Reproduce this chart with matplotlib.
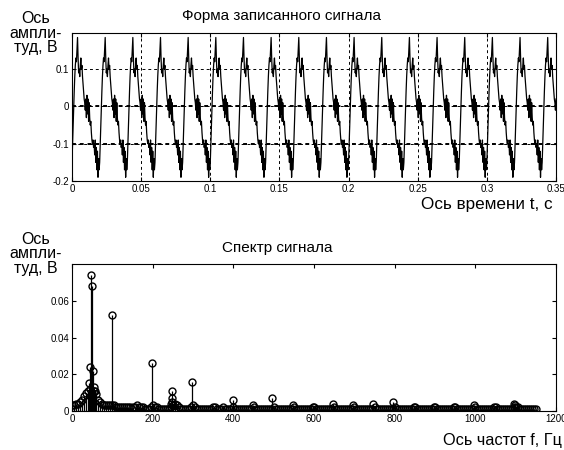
import numpy as np
import matplotlib
matplotlib.use('Agg')
import matplotlib.pyplot as plt

plt.rcParams['font.family'] = ['Liberation Sans', 'DejaVu Sans']

dt = 0.0004
period_vals = [-0.15, -0.10, -0.05, 0.00, 0.04, 0.08, 0.11, 0.13, 0.12, 0.15,
               0.185, 0.13, 0.09, 0.10, 0.08, 0.11, 0.13, 0.10, 0.11, 0.08,
               0.06, 0.04, 0.02, 0.01, -0.01, 0.02, -0.03, 0.03, -0.02, 0.02,
               -0.04, 0.01, -0.03, -0.05, -0.04, -0.07, -0.09, -0.10, -0.09, -0.11,
               -0.10, -0.13, -0.09, -0.15, -0.11, -0.17, -0.12, -0.19, -0.14, -0.17]
t_end = 0.35

# Spectrum: dense background read at 5 Hz steps (0 .. 1150 Hz)
bg_amp = [
    0.003, 0.003, 0.004, 0.004, 0.005, 0.006, 0.008, 0.010, 0.011, 0.012,
    0.010, 0.011, 0.009, 0.006, 0.005, 0.004, 0.003, 0.003, 0.003, 0.003,
    0.003, 0.003, 0.002, 0.002, 0.002, 0.002, 0.002, 0.002, 0.002, 0.002,
    0.002, 0.002, 0.003, 0.002, 0.002, 0.002, 0.001, 0.001, 0.001, 0.002,
    0.003, 0.002, 0.002, 0.001, 0.001, 0.001, 0.001, 0.001, 0.001, 0.002,
    0.003, 0.004, 0.003, 0.002, 0.001, 0.001, 0.001, 0.001, 0.001, 0.002,
    0.003, 0.002, 0.001, 0.001, 0.001, 0.001, 0.001, 0.001, 0.001, 0.001,
    0.002, 0.002, 0.001, 0.001, 0.001, 0.002, 0.001, 0.001, 0.001, 0.001,
    0.002, 0.001, 0.001, 0.001, 0.001, 0.001, 0.001, 0.001, 0.001, 0.001,
    0.002, 0.001, 0.001, 0.001, 0.001, 0.001, 0.001, 0.001, 0.001, 0.001,
    0.002, 0.001, 0.001, 0.001, 0.001, 0.001, 0.001, 0.001, 0.001, 0.001,
    0.002, 0.001, 0.001, 0.001, 0.001, 0.001, 0.001, 0.001, 0.001, 0.001,
    0.002, 0.001, 0.001, 0.001, 0.001, 0.001, 0.001, 0.001, 0.001, 0.001,
    0.002, 0.001, 0.001, 0.001, 0.001, 0.001, 0.001, 0.001, 0.001, 0.001,
    0.002, 0.001, 0.001, 0.001, 0.001, 0.001, 0.001, 0.001, 0.001, 0.001,
    0.002, 0.001, 0.001, 0.001, 0.001, 0.001, 0.001, 0.001, 0.001, 0.001,
    0.002, 0.001, 0.001, 0.001, 0.001, 0.001, 0.001, 0.001, 0.001, 0.001,
    0.002, 0.001, 0.001, 0.001, 0.001, 0.001, 0.001, 0.001, 0.001, 0.001,
    0.002, 0.001, 0.001, 0.001, 0.001, 0.001, 0.001, 0.001, 0.001, 0.001,
    0.002, 0.001, 0.001, 0.001, 0.001, 0.001, 0.001, 0.001, 0.001, 0.001,
    0.002, 0.001, 0.001, 0.001, 0.001, 0.001, 0.001, 0.001, 0.001, 0.001,
    0.002, 0.001, 0.001, 0.001, 0.001, 0.001, 0.001, 0.001, 0.001, 0.002,
    0.002, 0.002, 0.001, 0.001, 0.001, 0.001, 0.001, 0.001, 0.001, 0.001,
    0.001]
bg_freq = np.arange(len(bg_amp)) * 5.0

# Distinct spectral peaks (Hz, V)
peak_freq = [42, 44, 48, 49, 52, 54, 56, 99, 198, 246, 247, 248, 249, 297.5,
             398, 448, 497, 547, 597, 648, 697, 747, 797, 847, 897, 947,
             997, 1047, 1097, 1099]
peak_amp = [0.015, 0.024, 0.074, 0.068, 0.022, 0.013, 0.011, 0.052, 0.026,
            0.004, 0.011, 0.007, 0.005, 0.016,
            0.006, 0.003, 0.007, 0.003, 0.002, 0.004, 0.003, 0.004, 0.005,
            0.002, 0.002, 0.002, 0.003, 0.002, 0.004, 0.003]

top_xticks = [0, 0.05, 0.1, 0.15, 0.2, 0.25, 0.3, 0.35]
top_xlabels = ['0', '0.05', '0.1', '0.15', '0.2', '0.25', '0.3', '0.35']
top_yticks = [-0.2, -0.1, 0, 0.1]
top_ylabels = ['-0.2', '-0.1', '0', '0.1']
bot_xticks = [0, 200, 400, 600, 800, 1000, 1200]
bot_yticks = [0, 0.02, 0.04, 0.06]
bot_ylabels = ['0', '0.02', '0.04', '0.06']

W, H = 564, 450
fig = plt.figure(figsize=(W / 100, H / 100), dpi=100)

def box(l, t, r, b):
    return [l / W, 1 - b / H, (r - l) / W, (b - t) / H]

def style(ax):
    ax.tick_params(direction='in', top=True, right=True, length=3,
                   width=0.8, labelsize=7, pad=2)
    for s in ax.spines.values():
        s.set_linewidth(0.8)

# --- signal
n = int(round(t_end / dt)) + 1
sig = np.tile(period_vals, n // len(period_vals) + 1)[:n]
t = np.arange(n) * dt

ax1 = fig.add_axes(box(72, 33, 556, 181))
ax1.plot(t, sig, color='k', lw=0.9)
ax1.set_xlim(0, 0.35)
ax1.set_ylim(-0.2, 0.197)
ax1.set_xticks(top_xticks, top_xlabels)
ax1.set_yticks(top_yticks, top_ylabels)
ax1.grid(True, color='k', linestyle=(0, (3, 3)), lw=0.7)
for y in [0, -0.1]:
    ax1.axhline(y, color='k', linestyle=(0, (2, 2)), lw=1.4)
style(ax1)

# --- spectrum
f_all = np.concatenate([bg_freq, peak_freq])
a_all = np.concatenate([bg_amp, peak_amp])
ax2 = fig.add_axes(box(72, 264, 556, 411))
ml, sl, bl = ax2.stem(f_all, a_all, linefmt='k-', markerfmt='o', basefmt='k-')
ml.set_markerfacecolor('none')
ml.set_markeredgecolor('k')
ml.set_markersize(5)
ml.set_markeredgewidth(1.0)
sl.set_linewidth(0.9)
bl.set_linewidth(0.8)
ax2.set_xlim(0, 1200)
ax2.set_ylim(0, 0.08)
ax2.set_xticks(bot_xticks, [str(v) for v in bot_xticks])
ax2.set_yticks(bot_yticks, bot_ylabels)
style(ax2)

# --- texts
fig.text(282 / W, 1 - 16 / H, 'Форма записанного сигнала', ha='center',
         va='center', fontsize=11)
fig.text(36 / W, 1 - 33 / H, 'Ось\nампли-\nтуд, В', ha='center', va='center',
         fontsize=11.5, linespacing=0.95)
fig.text(553 / W, 1 - 205 / H, 'Ось времени t, с', ha='right', va='center',
         fontsize=12.3)
fig.text(277 / W, 1 - 248 / H, 'Спектр сигнала', ha='center', va='center',
         fontsize=11)
fig.text(36 / W, 1 - 254 / H, 'Ось\nампли-\nтуд, В', ha='center', va='center',
         fontsize=11.5, linespacing=0.95)
fig.text(562 / W, 1 - 440 / H, 'Ось частот f, Гц', ha='right', va='center',
         fontsize=11.7)

fig.savefig('out.png', dpi=100)
